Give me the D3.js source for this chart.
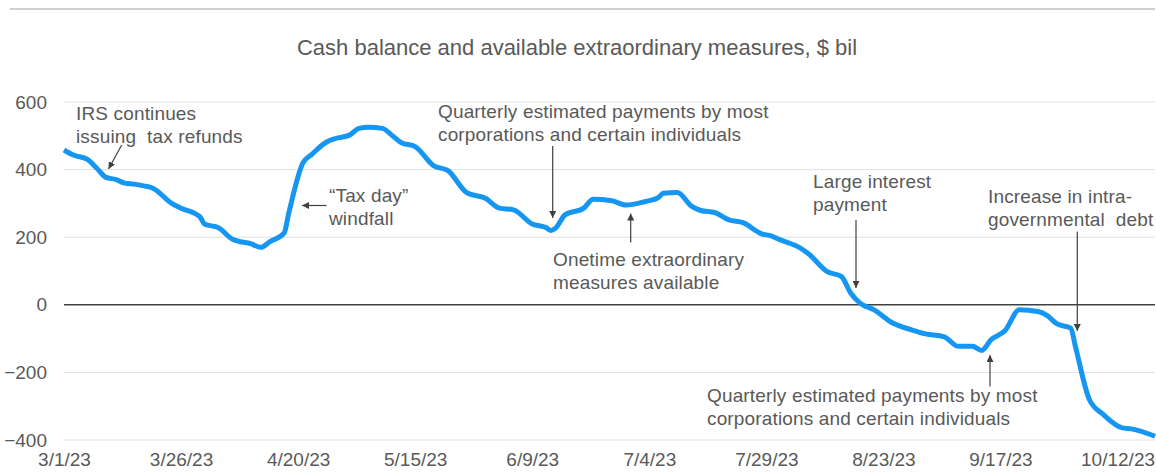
<!DOCTYPE html>
<html>
<head>
<meta charset="utf-8">
<script src="https://cdn.jsdelivr.net/npm/d3@7"></script>
<style>
	body { margin: 0; background: #fff; }
	svg { display: block; font-family: "Liberation Sans", Arial, sans-serif; }
</style>
</head>
<body>
<svg id="chart"></svg>
<script>
// daily cash balance + extraordinary measures, $ bil
const dates = [
	"3/1/23", "3/3/23", "3/6/23", "3/8/23", "3/10/23", "3/12/23", "3/14/23", "3/16/23", "3/18/23", "3/20/23",
	"3/24/23", "3/26/23", "3/30/23", "3/31/23", "4/3/23", "4/6/23", "4/10/23", "4/12/23", "4/14/23", "4/17/23",
	"4/18/23", "4/21/23", "4/23/23", "4/26/23", "4/28/23", "5/1/23", "5/3/23", "5/5/23", "5/8/23", "5/10/23",
	"5/12/23", "5/15/23", "5/19/23", "5/22/23", "5/26/23", "5/30/23", "6/2/23", "6/5/23", "6/9/23", "6/12/23",
	"6/13/23", "6/14/23", "6/16/23", "6/20/23", "6/22/23", "6/26/23", "6/29/23", "7/3/23", "7/6/23", "7/7/23",
	"7/10/23", "7/13/23", "7/15/23", "7/18/23", "7/21/23", "7/24/23", "7/28/23", "7/30/23", "8/1/23", "8/3/23",
	"8/5/23", "8/7/23", "8/11/23", "8/14/23", "8/16/23", "8/18/23", "8/21/23", "8/25/23", "8/29/23", "9/1/23",
	"9/5/23", "9/8/23", "9/11/23", "9/13/23", "9/15/23", "9/18/23", "9/21/23", "9/25/23", "9/27/23", "9/29/23",
	"10/2/23", "10/3/23", "10/6/23", "10/9/23", "10/13/23", "10/15/23", "10/20/23"
];
const balance = [
	458, 443, 430, 404, 377, 371, 360, 357, 352, 345,
	300, 286, 261, 239, 228, 194, 180, 170, 187, 212,
	271, 419, 446, 481, 492, 502, 522, 525, 522, 502,
	480, 468, 411, 397, 332, 315, 286, 281, 239, 228,
	220, 227, 266, 286, 312, 308, 295, 305, 318, 330,
	332, 292, 279, 273, 251, 243, 210, 204, 192, 182,
	170, 151, 98, 84, 35, 5, -15, -54, -74, -86,
	-95, -123, -123, -135, -103, -76, -15, -20, -32, -56,
	-69, -123, -281, -325, -364, -367, -389
];

const yTicks = [600, 400, 200, 0, -200, -400];
const xTickLabels = ["3/1/23", "3/26/23", "4/20/23", "5/15/23", "6/9/23", "7/4/23", "7/29/23", "8/23/23", "9/17/23", "10/12/23"];

const title = "Cash balance and available extraordinary measures, $ bil";

// annotations: text lines + arrow (from, to)
const notes = [
	{ lines: ["IRS continues", "issuing  tax refunds"], x: 76, y0: 120, arrow: [[121.7, 145], [108.5, 169]] },
	{ lines: ["\u201CTax day\u201D", "windfall"], x: 329, y0: 202, arrow: [[326.5, 205.5], [302, 205.5]] },
	{ lines: ["Quarterly estimated payments by most", "corporations and certain individuals"], x: 438, y0: 118, arrow: [[552.7, 146], [552.7, 218]] },
	{ lines: ["Onetime extraordinary", "measures available"], x: 553, y0: 266, arrow: [[630.7, 242.5], [630.7, 213.5]] },
	{ lines: ["Large interest", "payment"], x: 813, y0: 188, arrow: [[856, 220], [856, 288]] },
	{ lines: ["Increase in intra-", "governmental  debt"], x: 988, y0: 203, arrow: [[1077.3, 231.5], [1077.3, 331]] },
	{ lines: ["Quarterly estimated payments by most", "corporations and certain individuals"], x: 707, y0: 402, arrow: [[990, 386.5], [990, 355]] }
];

const w = 1156, h = 472;
const margin = { top: 102, right: 1, bottom: 32, left: 64 };
const parse = d3.timeParse("%-m/%-d/%y");
const data = dates.map((d, i) => ({ date: parse(d), value: balance[i] }));

const svg = d3.select("#chart").attr("width", w).attr("height", h);

const x = d3.scaleTime()
	.domain([parse("3/1/23"), parse("10/20/23")])
	.range([margin.left, w - margin.right]);
const y = d3.scaleLinear()
	.domain([-400, 600])
	.range([h - margin.bottom, margin.top]);

// thin rule at the very top
svg.append("line")
	.attr("x1", 10).attr("x2", 1155)
	.attr("y1", 9).attr("y2", 9)
	.attr("stroke", "#cfcfcf").attr("stroke-width", 2);

svg.append("text")
	.attr("x", 577).attr("y", 55)
	.attr("text-anchor", "middle")
	.attr("fill", "#595959")
	.style("font-size", "22px")
	.text(title);

// gridlines
svg.append("g")
	.selectAll("line")
	.data(yTicks.filter((t) => t !== 0))
	.enter()
	.append("line")
	.attr("x1", margin.left).attr("x2", w - margin.right)
	.attr("y1", (d) => y(d)).attr("y2", (d) => y(d))
	.attr("stroke", "#e0e0e0").attr("stroke-width", 1);

// y axis labels
const yAxis = d3.axisLeft(y).tickValues(yTicks).tickSize(0).tickPadding(17);
svg.append("g")
	.attr("transform", "translate(" + margin.left + ",0)")
	.call(yAxis)
	.call((g) => g.select(".domain").remove())
	.selectAll("text")
	.attr("fill", "#595959")
	.style("font-size", "19px")
	.style("font-family", "'Liberation Sans', Arial, sans-serif");

// x axis labels
const xAxis = d3.axisBottom(x)
	.tickValues(xTickLabels.map(parse))
	.tickFormat(d3.timeFormat("%-m/%-d/%y"))
	.tickSize(0).tickPadding(13);
svg.append("g")
	.attr("transform", "translate(0," + (h - margin.bottom) + ")")
	.call(xAxis)
	.call((g) => g.select(".domain").remove())
	.selectAll("text")
	.attr("fill", "#595959")
	.style("font-size", "19px")
	.style("font-family", "'Liberation Sans', Arial, sans-serif");

// zero line
svg.append("line")
	.attr("x1", margin.left).attr("x2", w - margin.right)
	.attr("y1", y(0)).attr("y2", y(0))
	.attr("stroke", "#404040").attr("stroke-width", 1.5);

// the series
const line = d3.line()
	.x((d) => x(d.date))
	.y((d) => y(d.value))
	.curve(d3.curveMonotoneX);
svg.append("path")
	.datum(data)
	.attr("d", line)
	.attr("fill", "none")
	.attr("stroke", "#1496f2")
	.attr("stroke-width", 5)
	.attr("stroke-linejoin", "round");

// arrow marker
svg.append("defs").append("marker")
	.attr("id", "arrow")
	.attr("viewBox", "0 0 10 10")
	.attr("refX", 10).attr("refY", 5)
	.attr("markerWidth", 7).attr("markerHeight", 7)
	.attr("markerUnits", "userSpaceOnUse")
	.attr("orient", "auto")
	.append("path")
	.attr("d", "M0,0 L10,5 L0,10 Z")
	.attr("fill", "#404040");

// annotations
notes.forEach((n) => {
	const t = svg.append("text")
		.attr("fill", "#595959")
		.style("font-size", "19px")
		.style("letter-spacing", "0.15px")
		.style("white-space", "pre")
		.attr("xml:space", "preserve");
	n.lines.forEach((l, i) => {
		t.append("tspan").attr("x", n.x).attr("y", n.y0 + i * 23).text(l);
	});
	svg.append("line")
		.attr("x1", n.arrow[0][0]).attr("y1", n.arrow[0][1])
		.attr("x2", n.arrow[1][0]).attr("y2", n.arrow[1][1])
		.attr("stroke", "#404040").attr("stroke-width", 1.2)
		.attr("marker-end", "url(#arrow)");
});
</script>
</body>
</html>
